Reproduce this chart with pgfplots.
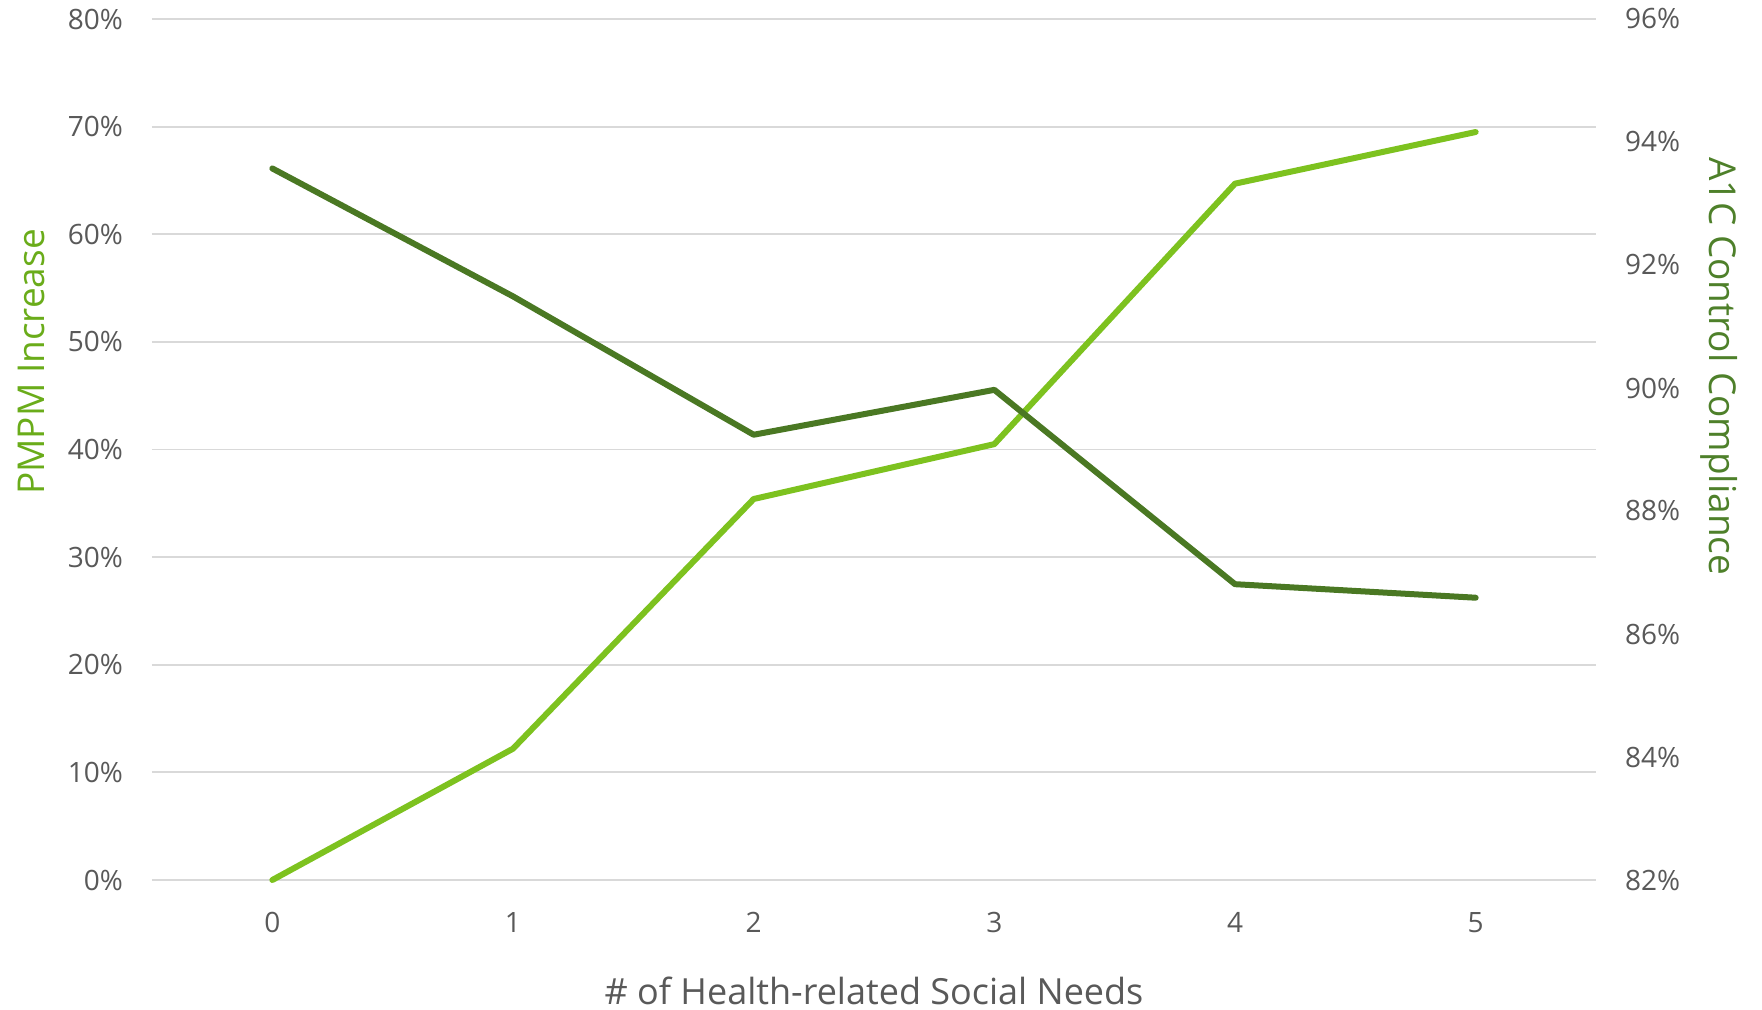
\documentclass[border=0pt]{standalone}
\usepackage{pgfplots}
\pgfplotsset{compat=1.18}
\usepackage{fontspec}
\setmainfont{Open Sans}
\definecolor{lgreen}{RGB}{125,194,31}
\definecolor{dgreen}{RGB}{74,120,35}
\definecolor{llab}{RGB}{106,172,26}
\definecolor{dlab}{RGB}{78,128,42}
\definecolor{tickgray}{RGB}{89,89,89}
\definecolor{gridgray}{RGB}{217,217,217}
\begin{document}
\begin{tikzpicture}
\useasboundingbox (-76bp,-65bp) rectangle (805bp,440bp);
\begin{axis}[
  at={(0,0)}, anchor=south west,
  scale only axis, width=722bp, height=430.5bp,
  xmin=-0.5, xmax=5.5, ymin=0, ymax=80,
  axis line style={draw=none},
  axis y line*=left, axis x line*=bottom,
  major tick length=0pt,
  xtick={0,1,2,3,4,5},
  ytick={0,10,20,30,40,50,60,70,80},
  yticklabels={0\%,10\%,20\%,30\%,40\%,50\%,60\%,70\%,80\%},
  ymajorgrids, grid style={gridgray, line width=0.9bp},
  tick label style={font=\fontsize{14bp}{16bp}\selectfont, text=tickgray},
  /pgf/number format/assume math mode=true,
  yticklabel style={xshift=-11bp},
  xticklabel style={yshift=-12.5bp},
  xlabel={\# of Health-related Social Needs},
  xlabel style={font=\fontsize{18bp}{20bp}\selectfont, text=tickgray, inner sep=0pt, at={(axis description cs:0.5,-0.1285)}, anchor=center},
  ylabel={PMPM Increase},
  ylabel style={font=\fontsize{18.5bp}{20bp}\selectfont, text=llab, at={(axis description cs:-0.0835,0.6016)}, anchor=center},
  clip=false,
]
\addplot[lgreen, line width=3bp, line join=round, line cap=round] coordinates {
(0,0) (1,12.2) (2,35.4) (3,40.5) (4,64.7) (5,69.5)};
\end{axis}
\begin{axis}[
  at={(0,0)}, anchor=south west,
  scale only axis, width=722bp, height=430.5bp,
  xmin=-0.5, xmax=5.5, ymin=82, ymax=96,
  axis line style={draw=none},
  axis y line*=right, axis x line=none,
  major tick length=0pt,
  ytick={82,84,86,88,90,92,94,96},
  yticklabels={82\%,84\%,86\%,88\%,90\%,92\%,94\%,96\%},
  tick label style={font=\fontsize{14bp}{16bp}\selectfont, text=tickgray},
  /pgf/number format/assume math mode=true,
  yticklabel style={xshift=11bp},
  ylabel={A1C Control Compliance},
  ylabel style={font=\fontsize{18.5bp}{20bp}\selectfont, text=dlab, at={(axis description cs:1.0853,0.5965)}, anchor=center, rotate=180},
  clip=false,
]
\addplot[dgreen, line width=3bp, line join=round, line cap=round] coordinates {
(0,93.57) (1,91.49) (2,89.24) (3,89.97) (4,86.81) (5,86.59)};
\end{axis}
\end{tikzpicture}
\end{document}
